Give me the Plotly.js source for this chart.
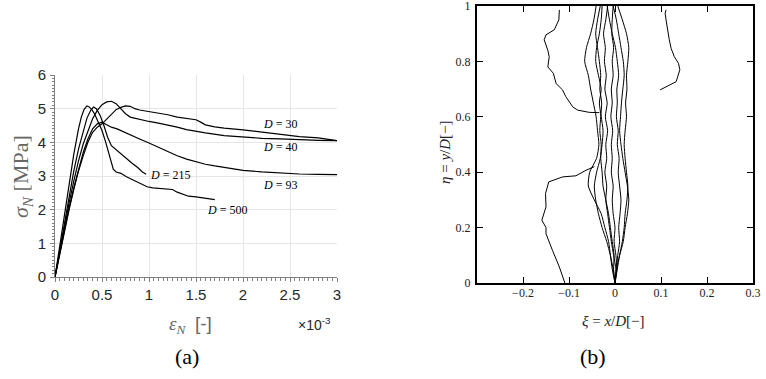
<!DOCTYPE html>
<html>
<head>
<meta charset="utf-8">
<script src="https://cdn.plot.ly/plotly-3.0.1.min.js"></script>
<style>html,body{margin:0;padding:0;background:#fff;}#chart{width:766px;height:379px;}</style>
</head>
<body>
<div id="chart"></div>
<script>
// ---- Panel (a): nominal stress vs nominal strain (strain in units of 1e-3) ----
const sizeLabels = ["D = 30", "D = 40", "D = 93", "D = 215", "D = 500"];

const strain_D30 = [0, 0.05, 0.1, 0.15, 0.2, 0.25, 0.3, 0.35, 0.4, 0.45, 0.5, 0.55, 0.6, 0.65, 0.7, 0.75, 0.8, 0.85, 0.9, 1.0, 1.1, 1.2, 1.3, 1.4, 1.5, 1.55, 1.6, 1.7, 1.8, 2.0, 2.2, 2.4, 2.6, 2.8, 3.0];
const stress_D30 = [0, 0.68, 1.35, 2.0, 2.6, 3.15, 3.6, 4.0, 4.3, 4.45, 4.55, 4.7, 4.85, 4.97, 5.04, 5.08, 5.07, 5.0, 4.96, 4.92, 4.88, 4.82, 4.75, 4.7, 4.67, 4.6, 4.52, 4.46, 4.42, 4.37, 4.3, 4.22, 4.17, 4.13, 4.05];

const strain_D40 = [0, 0.05, 0.1, 0.15, 0.2, 0.25, 0.3, 0.35, 0.4, 0.45, 0.5, 0.55, 0.6, 0.65, 0.7, 0.75, 0.8, 0.9, 1.0, 1.1, 1.2, 1.3, 1.4, 1.5, 1.6, 1.8, 2.0, 2.2, 2.4, 2.6, 2.8, 3.0];
const stress_D40 = [0, 0.75, 1.5, 2.2, 2.85, 3.45, 3.95, 4.35, 4.7, 4.95, 5.12, 5.2, 5.22, 5.15, 5.0, 4.85, 4.75, 4.68, 4.62, 4.57, 4.52, 4.45, 4.38, 4.32, 4.28, 4.2, 4.15, 4.12, 4.1, 4.07, 4.06, 4.05];

const strain_D93 = [0, 0.05, 0.1, 0.15, 0.2, 0.25, 0.3, 0.35, 0.4, 0.45, 0.5, 0.55, 0.6, 0.66, 0.72, 0.8, 0.9, 1.0, 1.1, 1.2, 1.3, 1.4, 1.5, 1.6, 1.7, 1.8, 1.9, 2.0, 2.2, 2.4, 2.6, 2.8, 3.0];
const stress_D93 = [0, 0.7, 1.4, 2.05, 2.65, 3.2, 3.7, 4.1, 4.4, 4.55, 4.6, 4.52, 4.45, 4.4, 4.33, 4.22, 4.1, 3.98, 3.85, 3.72, 3.6, 3.5, 3.42, 3.35, 3.3, 3.25, 3.21, 3.17, 3.12, 3.08, 3.06, 3.05, 3.04];

const strain_D215 = [0, 0.05, 0.1, 0.15, 0.2, 0.25, 0.3, 0.34, 0.38, 0.41, 0.44, 0.48, 0.52, 0.56, 0.6, 0.65, 0.7, 0.76, 0.82, 0.88, 0.93, 0.97];
const stress_D215 = [0, 0.8, 1.6, 2.4, 3.15, 3.8, 4.35, 4.72, 4.95, 5.05, 5.0, 4.8, 4.5, 4.15, 3.9, 3.78, 3.65, 3.52, 3.38, 3.25, 3.12, 3.05];

const strain_D500 = [0, 0.05, 0.1, 0.15, 0.2, 0.25, 0.28, 0.31, 0.34, 0.36, 0.39, 0.42, 0.46, 0.5, 0.54, 0.58, 0.6, 0.62, 0.65, 0.7, 0.76, 0.82, 0.88, 0.93, 0.98, 1.04, 1.1, 1.18, 1.25, 1.3, 1.36, 1.42, 1.5, 1.6, 1.7];
const stress_D500 = [0, 0.95, 1.9, 2.8, 3.65, 4.4, 4.75, 4.98, 5.08, 5.06, 4.98, 4.85, 4.62, 4.35, 4.0, 3.6, 3.35, 3.2, 3.12, 3.08, 2.98, 2.9, 2.82, 2.75, 2.68, 2.65, 2.64, 2.63, 2.6, 2.52, 2.45, 2.4, 2.38, 2.35, 2.3];

// label anchor points (strain 1e-3, MPa)
const labelStrain = [2.39, 2.39, 2.39, 1.22, 1.83];
const labelStress = [4.54, 3.86, 2.73, 3.03, 2.0];

const xTicksA = [0, 0.5, 1, 1.5, 2, 2.5, 3];
const yTicksA = [0, 1, 2, 3, 4, 5, 6];

// ---- Panel (b): crack paths, xi = x/D, eta = y/D ----
const eta_grid = [0, 0.05, 0.1, 0.15, 0.2, 0.25, 0.3, 0.35, 0.4, 0.45, 0.5, 0.55, 0.6, 0.65, 0.7, 0.75, 0.8, 0.85, 0.9, 0.95, 1.0];
const xi_c1 = [0, -0.006, -0.01, -0.014, -0.022, -0.03, -0.045, -0.058, -0.055, -0.04, -0.035, -0.038, -0.041, -0.047, -0.053, -0.058, -0.066, -0.062, -0.053, -0.046, -0.041];
const xi_c2 = [0, -0.004, -0.01, -0.018, -0.028, -0.036, -0.042, -0.045, -0.04, -0.032, -0.028, -0.026, -0.03, -0.034, -0.03, -0.036, -0.042, -0.04, -0.034, -0.03, -0.028];
const xi_c3 = [0, 0.002, -0.003, -0.008, -0.012, -0.016, -0.02, -0.018, -0.022, -0.018, -0.02, -0.016, -0.021, -0.017, -0.022, -0.019, -0.023, -0.021, -0.025, -0.02, -0.016];
const xi_c4 = [0, 0.004, 0.002, -0.002, 0.0, -0.004, -0.006, -0.004, -0.008, -0.006, -0.008, -0.005, -0.009, -0.006, -0.008, -0.004, -0.006, -0.003, -0.007, -0.006, -0.004];
const xi_c5 = [0, 0.003, 0.006, 0.01, 0.008, 0.011, 0.013, 0.01, 0.007, 0.009, 0.005, 0.007, 0.003, 0.005, 0.004, 0.008, 0.005, 0.001, -0.006, -0.012, -0.017];
const xi_c6 = [0, 0.005, 0.01, 0.016, 0.02, 0.022, 0.026, 0.028, 0.025, 0.022, 0.02, 0.022, 0.025, 0.023, 0.026, 0.025, 0.028, 0.03, 0.025, 0.016, 0.006];
const xi_c7 = [0, 0.003, 0.01, 0.018, 0.022, 0.027, 0.03, 0.027, 0.022, 0.017, 0.013, 0.01, 0.012, 0.014, 0.017, 0.02, 0.018, 0.013, 0.008, 0.003, -0.004];
const xi_c8 = [0, -0.003, -0.002, -0.006, -0.01, -0.014, -0.02, -0.026, -0.028, -0.031, -0.03, -0.033, -0.031, -0.029, -0.033, -0.031, -0.034, -0.038, -0.042, -0.038, -0.032];

const xi_upperLeft  = [-0.121, -0.122, -0.132, -0.15, -0.154, -0.146, -0.143, -0.146, -0.134, -0.128, -0.114, -0.107, -0.092, -0.081, -0.056, -0.034];
const eta_upperLeft = [0.986, 0.95, 0.914, 0.896, 0.878, 0.84, 0.817, 0.78, 0.757, 0.72, 0.697, 0.673, 0.636, 0.624, 0.616, 0.615];

const xi_lowerLeft  = [-0.109, -0.121, -0.136, -0.15, -0.15, -0.159, -0.15, -0.151, -0.144, -0.114, -0.085, -0.063, -0.045];
const eta_lowerLeft = [0, 0.058, 0.118, 0.178, 0.2, 0.227, 0.275, 0.323, 0.365, 0.383, 0.387, 0.407, 0.42];

const xi_right  = [0.098, 0.111, 0.133, 0.141, 0.138, 0.129, 0.122, 0.118, 0.114, 0.111, 0.109, 0.111];
const eta_right = [0.697, 0.709, 0.727, 0.77, 0.793, 0.817, 0.847, 0.878, 0.914, 0.95, 0.974, 0.986];

const xTicksB = [-0.2, -0.1, 0, 0.1, 0.2, 0.3];
const yTicksB = [0, 0.2, 0.4, 0.6, 0.8, 1];

// ---- Build traces ----
const traces = [];
const curvesA = [[strain_D30, stress_D30], [strain_D40, stress_D40], [strain_D93, stress_D93], [strain_D215, stress_D215], [strain_D500, stress_D500]];
curvesA.forEach(c => traces.push({x: c[0], y: c[1], type: 'scatter', mode: 'lines', xaxis: 'x', yaxis: 'y', line: {color: '#000', width: 1.2}, hoverinfo: 'skip'}));

const central = [xi_c1, xi_c2, xi_c3, xi_c4, xi_c5, xi_c6, xi_c7, xi_c8];
central.forEach(xs => traces.push({x: xs, y: eta_grid, type: 'scatter', mode: 'lines', xaxis: 'x2', yaxis: 'y2', line: {color: '#000', width: 1, shape: 'spline', smoothing: 0.6}, hoverinfo: 'skip'}));
[[xi_upperLeft, eta_upperLeft], [xi_lowerLeft, eta_lowerLeft], [xi_right, eta_right]].forEach(p =>
  traces.push({x: p[0], y: p[1], type: 'scatter', mode: 'lines', xaxis: 'x2', yaxis: 'y2', line: {color: '#000', width: 1}, hoverinfo: 'skip'}));

const W = 766, H = 379;
const annotations = [];
sizeLabels.forEach((t, i) => {
  const parts = t.split(' = ');
  annotations.push({x: labelStrain[i], y: labelStress[i], xref: 'x', yref: 'y', xanchor: 'center', yanchor: 'middle', text: '<i>' + parts[0] + '</i> = ' + parts[1],
    showarrow: false, font: {family: 'Liberation Serif, serif', size: 12, color: '#000'}});
});
const pa = (x, y, text, size, color, family, angle) => ({x: x / W, y: 1 - y / H, xref: 'paper', yref: 'paper', xanchor: 'center', yanchor: 'middle',
  text: text, showarrow: false, textangle: angle || 0, font: {family: family, size: size, color: color}});
const SERIF = 'Liberation Serif, serif', SANS = 'Liberation Sans, Arial, sans-serif';
annotations.push(
  pa(22, 177, '<i>σ</i><sub><i>N</i></sub> [MPa]', 22, '#666', SERIF, -90),
  pa(190, 325, '<i>ε</i><sub><i>N</i></sub>  <span style="font-family:Liberation Sans">[-]</span>', 19, '#666', SERIF),
  pa(314, 324, '×10<sup>-3</sup>', 14, '#262626', SANS),
  pa(613, 321, '<i>ξ</i> = <i>x</i>/<i>D</i>[−]', 15, '#222', SERIF),
  pa(445, 152, '<i>η</i> = <i>y</i>/<i>D</i>[−]', 15, '#222', SERIF, -90),
  pa(187, 356, '(a)', 22, '#000', SERIF),
  pa(593, 356, '(b)', 22, '#000', SERIF)
);

const layout = {
  width: W, height: H, margin: {l: 0, r: 0, t: 0, b: 0}, paper_bgcolor: '#fff', plot_bgcolor: '#fff', showlegend: false,
  xaxis: {domain: [55 / W, 337 / W], range: [0, 3], tickvals: xTicksA, ticktext: xTicksA.map(String), anchor: 'y',
    showgrid: true, gridcolor: '#e6e6e6', zeroline: false, showline: true, linecolor: '#808080', linewidth: 1,
    ticks: 'outside', ticklen: 4, tickcolor: '#808080', ticklabelstandoff: 0, ticklabeloverflow: 'allow',
    minor: {tickmode: 'linear', tick0: 0, dtick: 0.05, ticks: 'outside', ticklen: 2.5, tickwidth: 1, tickcolor: '#808080', showgrid: false},
    tickfont: {family: SANS, size: 15, color: '#262626'}},
  yaxis: {domain: [1 - 277 / H, 1 - 75 / H], range: [0, 6], tickvals: yTicksA, ticktext: yTicksA.map(String), anchor: 'x',
    showgrid: true, gridcolor: '#e6e6e6', zeroline: false, showline: true, linecolor: '#808080', linewidth: 1,
    ticks: 'outside', ticklen: 4, tickcolor: '#808080', ticklabelstandoff: 1, ticklabeloverflow: 'allow',
    minor: {tickmode: 'linear', tick0: 0, dtick: 0.1, ticks: 'outside', ticklen: 2.5, tickwidth: 1, tickcolor: '#808080', showgrid: false},
    tickfont: {family: SANS, size: 15, color: '#262626'}},
  xaxis2: {domain: [477 / W, 753 / W], range: [-0.3, 0.3], tickvals: xTicksB, anchor: 'y2',
    showgrid: false, zeroline: false, showline: true, mirror: 'allticks', linecolor: '#000', linewidth: 2,
    ticks: 'inside', ticklen: 6, tickcolor: '#000', tickwidth: 1, ticklabelstandoff: -2, ticklabeloverflow: 'allow',
    tickfont: {family: SERIF, size: 12, color: '#222'}},
  yaxis2: {domain: [1 - 283 / H, 1 - 6 / H], range: [0, 1], tickvals: yTicksB, anchor: 'x2',
    showgrid: false, zeroline: false, showline: true, mirror: 'allticks', linecolor: '#000', linewidth: 2,
    ticks: 'inside', ticklen: 6, tickcolor: '#000', tickwidth: 1, ticklabelstandoff: 2, ticklabeloverflow: 'allow',
    tickfont: {family: SERIF, size: 12, color: '#222'}},
  annotations: annotations
};

Plotly.newPlot('chart', traces, layout, {staticPlot: true, displayModeBar: false});
</script>
</body>
</html>
